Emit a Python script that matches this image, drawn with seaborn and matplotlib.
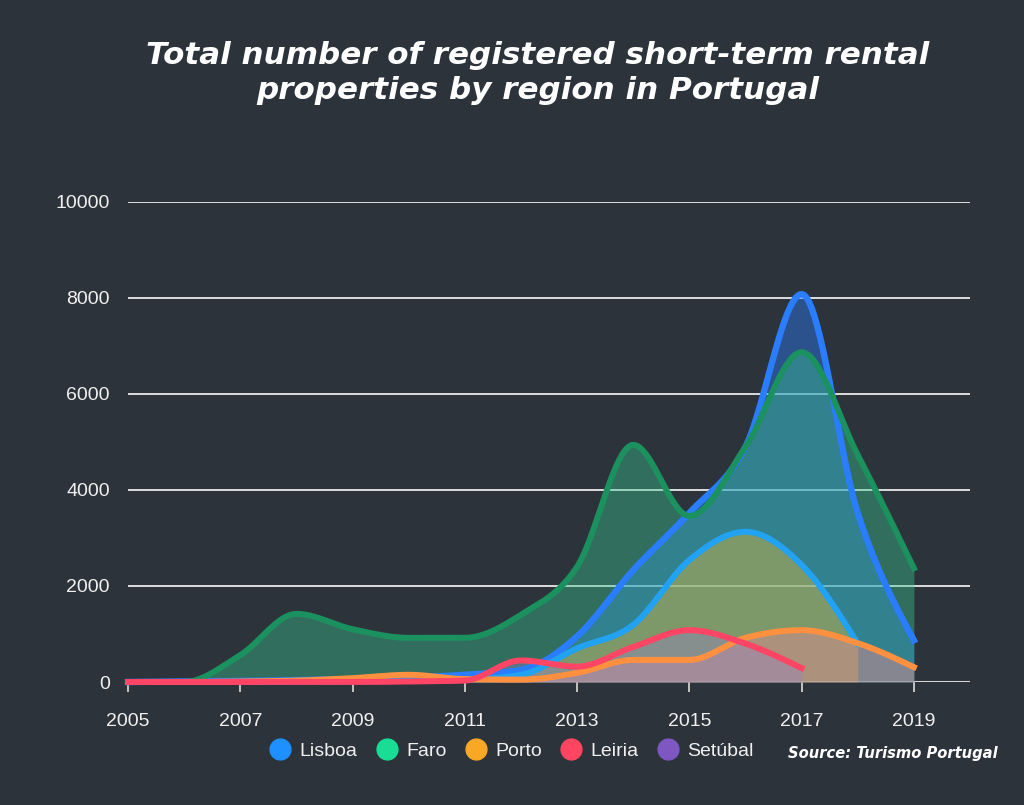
import numpy as np
import pandas as pd
import seaborn as sns
import matplotlib.pyplot as plt
from matplotlib.lines import Line2D

# values, one per year
years = list(range(2005, 2020))
lisboa = [0, 10, 20, 40, 60, 90, 150, 250, 950, 2330, 3520, 4900, 8080, 3520, 870]
faro = [0, 0, 560, 1420, 1100, 920, 920, 1400, 2400, 4940, 3460, 4900, 6870, 4730, 2370]
setubal = [0, 0, 0, 10, 20, 30, 50, 150, 700, 1190, 2540, 3130, 2440, 800]          # ends 2018
porto = [0, 0, 10, 30, 80, 150, 60, 50, 190, 460, 460, 920, 1080, 810, 310]
leiria = [0, 0, 0, 0, 0, 10, 30, 450, 320, 730, 1080, 800, 290]                     # ends 2017

legend_names = ["Lisboa", "Faro", "Porto", "Leiria", "Setúbal"]
legend_colors = ["#1e90ff", "#19dd95", "#f9a825", "#ff4560", "#7e57c2"]

bg = "#2c333a"


def monotone(x, y, n=40):
    # monotone cubic (d3 monotoneX style) for the smooth look of the lines
    x = np.asarray(x, float)
    y = np.asarray(y, float)
    h = np.diff(x)
    s = np.diff(y) / h
    m = np.zeros_like(y)
    for i in range(1, len(y) - 1):
        if s[i - 1] * s[i] <= 0:
            m[i] = 0
        else:
            p = (s[i - 1] * h[i] + s[i] * h[i - 1]) / (h[i - 1] + h[i])
            m[i] = (np.sign(s[i - 1]) + np.sign(s[i])) * min(abs(s[i - 1]), abs(s[i]), 0.5 * abs(p))
    m[0] = (3 * s[0] - m[1]) / 2 if len(y) > 2 else s[0]
    m[-1] = (3 * s[-1] - m[-2]) / 2 if len(y) > 2 else s[-1]
    xs, ys = [], []
    for i in range(len(h)):
        t = np.linspace(0, 1, n, endpoint=False)
        h00 = 2 * t**3 - 3 * t**2 + 1
        h10 = t**3 - 2 * t**2 + t
        h01 = -2 * t**3 + 3 * t**2
        h11 = t**3 - t**2
        xs.append(x[i] + t * h[i])
        ys.append(h00 * y[i] + h10 * h[i] * m[i] + h01 * y[i + 1] + h11 * h[i] * m[i + 1])
    xs.append([x[-1]])
    ys.append([y[-1]])
    return np.concatenate(xs), np.clip(np.concatenate(ys), 0, None)


fig = plt.figure(figsize=(10.24, 8.05), dpi=100, facecolor=bg)
ax = fig.add_axes([128 / 1024, 1 - 682 / 805, 842 / 1024, 480 / 805])
ax.set_facecolor(bg)

# draw order matters for how the translucent fills overlap
layers = [
    (lisboa, "#2a7dff", "#2a7dff", 0.42, 4.6),
    (faro, "#1b9160", "#3cc896", 0.40, 4.3),
    (setubal, "#22a2f2", "#f0be32", 0.40, 4.3),
    (porto, "#ff9040", "#dc8c91", 0.50, 4.3),
    (leiria, "#ff4565", "#9682c8", 0.40, 4.3),
]
for vals, lc, fc, a, lw in layers:
    xs, ys = monotone(years[:len(vals)], vals)
    ax.fill_between(xs, 0, ys, color=fc, alpha=a, linewidth=0, zorder=2)
    df = pd.DataFrame({"year": xs, "value": ys})
    sns.lineplot(data=df, x="year", y="value", ax=ax, color=lc, linewidth=lw,
                 sort=False, clip_on=False, zorder=3)

ax.set_xlim(2005, 2020)
ax.set_ylim(0, 10000)
ax.set_xticks(range(2005, 2020, 2))
ax.set_yticks(range(0, 10001, 2000))
ax.set_xlabel("")
ax.set_ylabel("")
for v in range(2000, 10001, 2000):
    ax.axhline(v, color="#dcdcdc", lw=1.4, zorder=1)
ax.axhline(0, color="#d4d4d4", lw=2.2, zorder=1.5)

for sp in ax.spines.values():
    sp.set_visible(False)
ax.tick_params(axis="x", colors="#d0d0d0", length=7, width=1.3, pad=15, labelcolor="#f0f0f0", labelsize=14)
ax.tick_params(axis="y", length=0, pad=13, labelcolor="#f0f0f0", labelsize=14)
for lab in ax.get_xticklabels() + ax.get_yticklabels():
    lab.set_family("Liberation Sans")

fig.text(538 / 1024, 1 - 73 / 805,
         "Total number of registered short-term rental\nproperties by region in Portugal",
         ha="center", va="center", color="white", fontsize=22.3, fontweight="bold",
         style="italic", family="DejaVu Sans", linespacing=1.3)

handles = [Line2D([], [], marker="o", ls="", markersize=15, color=c) for c in legend_colors]
leg = fig.legend(handles, legend_names, loc="center", bbox_to_anchor=(507 / 1024, 1 - 751 / 805),
                 ncol=5, frameon=False, handletextpad=0.0, columnspacing=0.5,
                 prop={"family": "Liberation Sans", "size": 14})
for t in leg.get_texts():
    t.set_color("#f0f0f0")

fig.text(998 / 1024, 1 - 753 / 805, "Source: Turismo Portugal", ha="right", va="center",
         color="white", fontsize=10.6, fontweight="bold", style="italic", family="DejaVu Sans")

fig.savefig("out.png", dpi=100, facecolor=bg)
